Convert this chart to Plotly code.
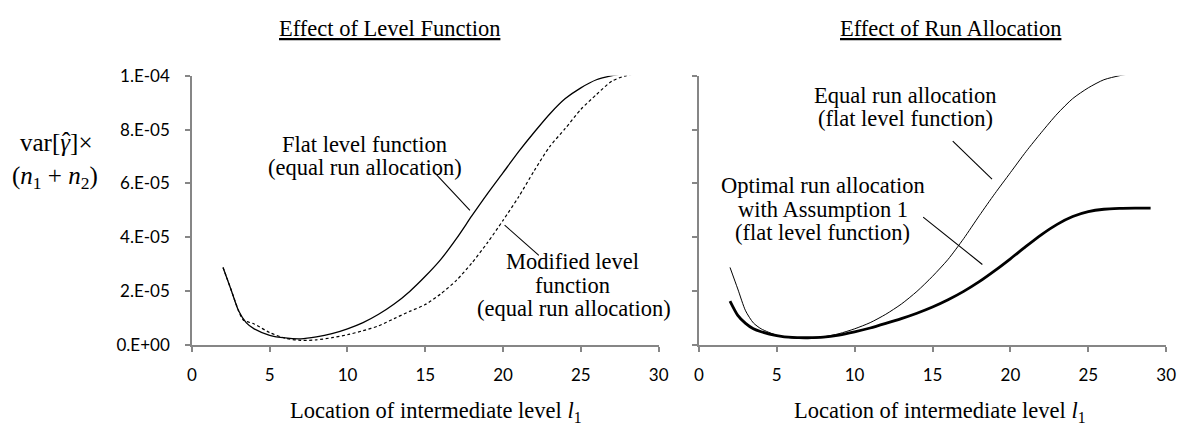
import plotly.graph_objects as go
from plotly.subplots import make_subplots

# ---------------- data (values in units of 1e-5) ----------------
x_equal = [2, 2.5, 3, 3.5, 4, 5, 6, 7, 8, 9, 10, 11, 12, 13, 14, 15, 16, 17, 18, 19,
           20, 21, 22, 23, 24, 25, 26, 27, 28, 29]
flat_equal = [2.88, 2.08, 1.27, 0.82, 0.60, 0.36, 0.26, 0.23, 0.30, 0.42, 0.60, 0.83, 1.14,
              1.52, 1.99, 2.55, 3.18, 3.95, 4.80, 5.62, 6.40, 7.18, 7.90, 8.58, 9.15,
              9.55, 9.85, 10.00, 10.10, 10.15]

x_mod = [2, 2.5, 3, 3.3, 4, 5, 6, 7, 8, 9, 10, 11, 12, 13, 14, 15, 16, 17, 18, 19,
         20, 21, 22, 23, 24, 25, 26, 27, 28, 29]
modified_equal = [2.88, 2.08, 1.27, 0.93, 0.78, 0.46, 0.25, 0.17, 0.19, 0.27, 0.38, 0.53,
                  0.71, 0.98, 1.25, 1.50, 1.90, 2.40, 3.05, 3.80, 4.63, 5.50, 6.47, 7.37,
                  8.04, 8.75, 9.30, 9.80, 10.02, 10.10]

x_opt = [2, 2.5, 3, 3.5, 4, 5, 6, 7, 8, 9, 10, 11, 12, 13, 14, 15, 16, 17, 18, 19,
         20, 21, 22, 23, 24, 25, 26, 27, 28, 29]
flat_optimal = [1.63, 1.10, 0.80, 0.60, 0.49, 0.35, 0.28, 0.27, 0.29, 0.37, 0.49, 0.63,
                0.80, 0.98, 1.18, 1.41, 1.68, 1.99, 2.35, 2.76, 3.20, 3.66, 4.10, 4.48,
                4.77, 4.95, 5.04, 5.07, 5.08, 5.08]

scale = 1e-5
y_ticks = [0, 2e-5, 4e-5, 6e-5, 8e-5, 1e-4]
y_ticktext = ["0.E+00", "2.E-05", "4.E-05", "6.E-05", "8.E-05", "1.E-04"]
x_ticks = [0, 5, 10, 15, 20, 25, 30]

# leader lines (x0, y0, x1, y1) in data units (y in 1e-5), per subplot
leaders_left = [(15.6, 6.4, 17.87, 5.0), (20.1, 4.45, 22.3, 3.33)]
leaders_right = [(16.3, 7.57, 18.82, 6.16), (14.4, 4.75, 18.2, 2.99)]

W, H = 1190, 433
SERIF = "Liberation Serif"
SANS = "Lato"
FS = 22.5
AXC = "#868686"

fig = make_subplots(rows=1, cols=2, horizontal_spacing=0.03)

def scaled(v):
    return [a * scale for a in v]

fig.add_trace(go.Scatter(x=x_equal, y=scaled(flat_equal), mode="lines",
                         line=dict(color="black", width=1.3, shape="spline", smoothing=0.7),
                         showlegend=False), 1, 1)
fig.add_trace(go.Scatter(x=x_mod, y=scaled(modified_equal), mode="lines",
                         line=dict(color="black", width=1.2, dash="3px,2.5px", shape="spline",
                                   smoothing=0.7), showlegend=False), 1, 1)
fig.add_trace(go.Scatter(x=x_equal, y=scaled(flat_equal), mode="lines",
                         line=dict(color="black", width=1.0, shape="spline", smoothing=0.7),
                         showlegend=False), 1, 2)
fig.add_trace(go.Scatter(x=x_opt, y=scaled(flat_optimal), mode="lines",
                         line=dict(color="black", width=2.8, shape="spline", smoothing=0.7),
                         showlegend=False), 1, 2)

ydom = [1 - 351 / H, 1 - 68 / H]
xdom1 = [189.3 / W, 662.0 / W]
xdom2 = [702.7 / W, 1176.0 / W]

common_x = dict(range=[0, 30], tickvals=x_ticks, showline=True, linecolor=AXC, linewidth=1.5,
                ticks="outside", ticklen=5, tickcolor=AXC, tickwidth=1.5, showgrid=False,
                zeroline=False, tickfont=dict(family=SANS, size=17, color="black"),
                ticklabelstandoff=9)
common_y = dict(range=[0, 1e-4], tickvals=y_ticks, showline=True, linecolor=AXC, linewidth=1.5,
                ticks="outside", ticklen=5, tickcolor=AXC, tickwidth=1.5, showgrid=False,
                zeroline=False, tickfont=dict(family=SANS, size=17, color="black"))

fig.update_xaxes(**common_x, domain=xdom1, row=1, col=1)
fig.update_xaxes(**common_x, domain=xdom2, row=1, col=2)
fig.update_yaxes(**common_y, domain=ydom, ticktext=y_ticktext, ticklabelstandoff=12, row=1, col=1)
fig.update_yaxes(**common_y, domain=ydom, showticklabels=False, row=1, col=2)

def txt(text, px, py, size=FS):
    fig.add_annotation(text=text, x=px / W, y=1 - py / H, xref="paper", yref="paper",
                       xanchor="center", yanchor="middle", showarrow=False,
                       font=dict(family=SERIF, size=size, color="black"))

# titles
txt("<u>Effect of Level Function</u>", 389.4, 18.3)
txt("<u>Effect of Run Allocation</u>", 958.0, 18.3)
# y label
txt("var[<i>\u03b3</i>]\u00d7", 52.6, 138.3, 25)
txt("\u02c6", 62.5, 137.0, 25)
txt("(<i>n</i><sub>1</sub> + <i>n</i><sub>2</sub>)", 50.5, 175.0, 25)
# x titles
txt("Location of intermediate level <i>l</i><sub>1</sub>", 437.0, 421.0)
txt("Location of intermediate level <i>l</i><sub>1</sub>", 947.0, 421.0)
# left annotations
txt("Flat level function", 364.3, 140.0)
txt("(equal run allocation)", 364.3, 165.0)
txt("Modified level", 575.0, 263.0)
txt("function", 575.0, 288.0)
txt("(equal run allocation)", 576.0, 313.0)
# right annotations
txt("Equal run allocation", 911.6, 88.3)
txt("(flat level function)", 911.6, 113.3)
txt("Optimal run allocation", 828.3, 183.3)
txt("with Assumption 1", 828.3, 208.3)
txt("(flat level function)", 828.3, 233.3)

for (x0, y0, x1, y1) in leaders_left:
    fig.add_shape(type="line", x0=x0, y0=y0 * scale, x1=x1, y1=y1 * scale,
                  xref="x", yref="y", line=dict(color="black", width=1.1))
for (x0, y0, x1, y1) in leaders_right:
    fig.add_shape(type="line", x0=x0, y0=y0 * scale, x1=x1, y1=y1 * scale,
                  xref="x2", yref="y2", line=dict(color="black", width=1.1))

fig.update_layout(width=W, height=H, margin=dict(l=0, r=0, t=0, b=0),
                  paper_bgcolor="white", plot_bgcolor="white", showlegend=False)

fig.write_html("out.html")
